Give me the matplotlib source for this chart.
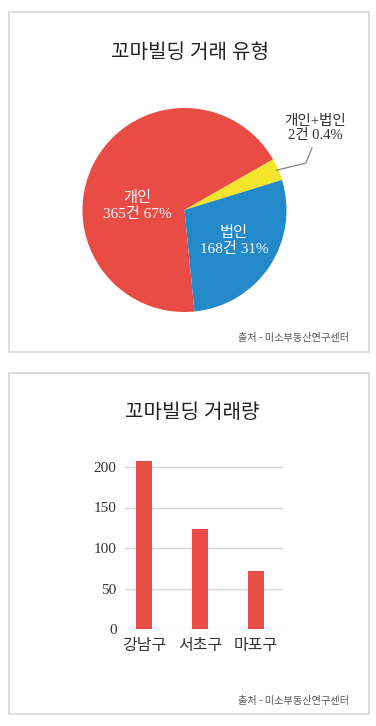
import matplotlib
matplotlib.use("Agg")
import matplotlib.pyplot as plt
from matplotlib.patches import Rectangle
import numpy as np

# ---------------- data ----------------
pie_title = "꼬마빌딩 거래 유형"
pie_labels = ["개인", "개인+법인", "법인"]
pie_counts = [365, 2, 168]
pie_pcts = ["67%", "0.4%", "31%"]
# slice sizes as drawn in the picture (the small slice is exaggerated there)
pie_shares = [68.3, 3.5, 28.2]
pie_colors = ["#E84C45", "#F2E52C", "#2389C9"]

bar_title = "꼬마빌딩 거래량"
bar_categories = ["강남구", "서초구", "마포구"]
bar_values = [207, 123, 72]
bar_ticks = [0, 50, 100, 150, 200]
source_text = "출처 - 미소부동산연구센터"

# ---------------- figure ----------------
W, H = 376, 726
fig = plt.figure(figsize=(W / 100, H / 100), dpi=100)
fig.patch.set_facecolor("white")
FAM = ["Liberation Serif", "Noto Sans CJK KR"]
SANS = ["Noto Sans CJK KR"]


def fx(x):
    return x / W


def fy(y):
    return 1 - y / H


# panel borders
for (x0, y0, x1, y1) in [(9, 12, 369, 352), (9, 373, 369, 714)]:
    fig.patches.append(Rectangle((fx(x0), fy(y1)), fx(x1) - fx(x0), fy(y0) - fy(y1),
                                 transform=fig.transFigure, fill=False,
                                 edgecolor="#d6d6d6", linewidth=1.2))

# ---------------- pie ----------------
cx, cy, r = 184.5, 210, 102
axp = fig.add_axes([fx(cx - r), fy(cy + r), 2 * r / W, 2 * r / H])
wedges, _ = axp.pie(pie_shares, colors=pie_colors, startangle=275.6,
                    counterclock=False, radius=1,
                    wedgeprops=dict(linewidth=0))
axp.set_xlim(-1, 1)
axp.set_ylim(-1, 1)
axp.axis("off")

fig.text(fx(190), fy(53), pie_title, ha="center", va="center",
         fontsize=14.5, family=FAM, color="#222222")

# inside labels
fig.text(fx(137), fy(206), f"{pie_labels[0]}\n{pie_counts[0]}건 {pie_pcts[0]}",
         ha="center", va="center", fontsize=11, family=FAM, color="white",
         linespacing=1.15)
fig.text(fx(234), fy(241), f"{pie_labels[2]}\n{pie_counts[2]}건 {pie_pcts[2]}",
         ha="center", va="center", fontsize=11, family=FAM, color="white",
         linespacing=1.15)
# outside label
fig.text(fx(315), fy(128), f"{pie_labels[1]}\n{pie_counts[1]}건 {pie_pcts[1]}",
         ha="center", va="center", fontsize=10.5, family=FAM, color="#333333",
         linespacing=1.1)
w = wedges[1]
mid = np.deg2rad((w.theta1 + w.theta2) / 2)
sx, sy = np.cos(mid) * 0.98, np.sin(mid) * 0.98
axp.plot([sx, 1.19, 1.25], [sy, 0.46, 0.61], color="#777777", lw=0.8,
         clip_on=False)

fig.text(fx(349), fy(338), source_text, ha="right", va="center",
         fontsize=7.3, family=SANS, color="#555555")

# ---------------- bar ----------------
ax_left, ax_right = 125, 283
y0px, y200px = 629, 467
ymax_px = 460
axb = fig.add_axes([fx(ax_left), fy(y0px), (ax_right - ax_left) / W, (y0px - ymax_px) / H])
xs = np.arange(len(bar_categories))
axb.bar(xs, bar_values, width=0.29, color="#E84C45", zorder=3)
axb.set_xlim(-0.34, 2.48)
scale = 200 / (y0px - y200px)
axb.set_ylim(0, (y0px - ymax_px) * scale)
axb.set_yticks(bar_ticks)
axb.set_yticklabels([str(t) for t in bar_ticks], family=FAM, fontsize=11, color="#333333")
axb.set_xticks(xs)
axb.set_xticklabels(bar_categories, family=SANS, fontsize=11.5, color="#333333")
axb.tick_params(axis="both", length=0)
axb.tick_params(axis="y", pad=6)
axb.tick_params(axis="x", pad=6)
for s in axb.spines.values():
    s.set_visible(False)
axb.yaxis.grid(True, color="#d9d9d9", linewidth=1)
axb.set_axisbelow(True)

fig.text(fx(192), fy(413), bar_title, ha="center", va="center",
         fontsize=14.5, family=FAM, color="#222222")
fig.text(fx(349), fy(701), source_text, ha="right", va="center",
         fontsize=7.3, family=SANS, color="#555555")

fig.savefig("out.png", dpi=100, facecolor="white")
